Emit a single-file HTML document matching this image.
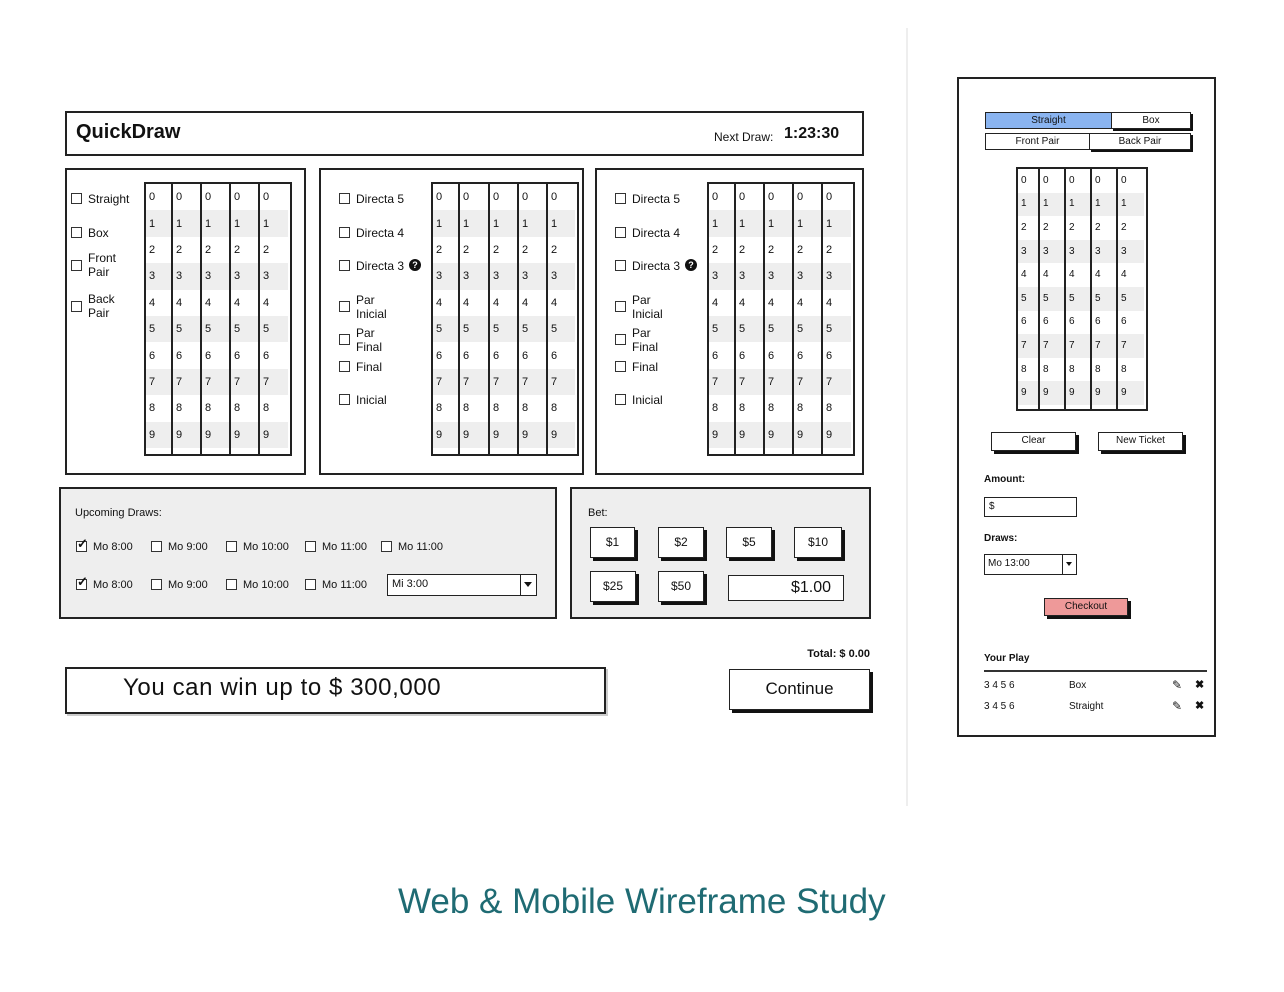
<!DOCTYPE html>
<html><head><meta charset="utf-8">
<style>
*{box-sizing:border-box;margin:0;padding:0}
body{width:1284px;height:992px;background:#fff;position:relative;overflow:hidden;font-family:"Liberation Sans",sans-serif;color:#111}
.a{position:absolute}
.box{position:absolute;border:2px solid #222;background:#fff}
.t{position:absolute;font-size:12px;line-height:14px;white-space:nowrap}
.cb{position:absolute;width:11px;height:11px;border:1.5px solid #333;background:#fff}
.btn{position:absolute;border:1.5px solid #222;background:#fff;box-shadow:3px 3px 0 #111;text-align:center;font-size:12px}
.q{position:absolute;width:12px;height:12px;border-radius:50%;background:#111;color:#fff;font-size:9px;font-weight:bold;text-align:center;line-height:12px}
</style></head><body>
<div class="a" style="left:906px;top:28px;width:2px;height:778px;background:#eee"></div>

<div class="box" style="left:65px;top:111px;width:799px;height:45px"></div>
<div class="t" style="left:76px;top:122px;font-size:20px;line-height:20px;font-weight:bold">QuickDraw</div>
<div class="t" style="left:714px;top:130px;font-size:12px">Next Draw:</div>
<div class="t" style="left:784px;top:125px;font-size:16px;line-height:18px;font-weight:bold">1:23:30</div>

<div class="box" style="left:65px;top:168px;width:241px;height:307px"></div>
<div class="box" style="left:319px;top:168px;width:265px;height:307px"></div>
<div class="box" style="left:595px;top:168px;width:269px;height:307px"></div>

<div class="box" style="left:59px;top:487px;width:498px;height:132px;background:#eee"></div>
<div class="box" style="left:570px;top:487px;width:301px;height:132px;background:#eee"></div>

<div class="box" style="left:65px;top:667px;width:541px;height:47px;box-shadow:2px 2px 0 #ccc"></div>
<div class="t" style="left:123px;top:674px;font-size:24px;line-height:28px;letter-spacing:0.6px">You can win up to $ 300,000</div>
<div class="btn" style="left:729px;top:669px;width:141px;height:41px;font-size:17px;line-height:38px">Continue</div>
<div class="t" style="left:760px;top:647px;width:110px;text-align:right;font-weight:bold;font-size:11px">Total: $ 0.00</div>

<div class="t" style="left:75px;top:506px;font-size:11px">Upcoming Draws:</div>
<div class="a" style="left:387px;top:574px;width:150px;height:22px;border:1.5px solid #222;background:#fff"></div>
<div class="a" style="left:520px;top:574px;width:17px;height:22px;border:1.5px solid #222;background:#fff"></div>
<div class="a" style="left:524px;top:582px;border-left:4px solid transparent;border-right:4px solid transparent;border-top:5px solid #111"></div>
<div class="t" style="left:392px;top:577px;font-size:11px">Mi 3:00</div>

<div class="t" style="left:588px;top:506px;font-size:11px">Bet:</div>

<div class="a" style="left:957px;top:77px;width:259px;height:660px;border:2px solid #222"></div>

<div class="t" style="left:398px;top:881px;font-size:35px;line-height:42px;color:#1f6b73">Web &amp; Mobile Wireframe Study</div>

<div id="g"></div>
<script>
var h='';
function T(x,y,s,st){h+='<div class="t" style="left:'+x+'px;top:'+y+'px;'+(st||'')+'">'+s+'</div>';}
function CB(x,y,c){h+='<div class="cb" style="left:'+x+'px;top:'+y+'px"></div>';if(c)h+='<div class="t" style="left:'+(x+1)+'px;top:'+(y-4)+'px;font-size:13px;font-weight:bold">&#10003;</div>';}
function grid(x0,y0,w,hh,cols,rh,fs){
 h+='<div class="a" style="left:'+x0+'px;top:'+y0+'px;width:'+w+'px;height:'+hh+'px;border:2px solid #222;background:#fff"></div>';
 for(var r=0;r<10;r++){
  if(r%2==1)h+='<div class="a" style="left:'+(x0+2)+'px;top:'+(y0+2+r*rh)+'px;width:'+(w-6)+'px;height:'+rh+'px;background:#eee"></div>';
  for(var c=0;c<5;c++)T(cols[c]+5,y0+2+r*rh+(rh-14)/2,r,'font-size:'+fs+'px');
 }
 for(var c=1;c<5;c++)h+='<div class="a" style="left:'+cols[c]+'px;top:'+y0+'px;width:2px;height:'+hh+'px;background:#222"></div>';
}
grid(144,182,148,274,[144,171,200,229,258],26.4,11);
grid(431,182,148,274,[431,458,488,517,546],26.4,11);
grid(707,182,148,274,[707,734,763,792,821],26.4,11);
grid(1016,167,132,244,[1016,1038,1064,1090,1116],23.6,10);
CB(71,193);T(88,192,'Straight');CB(71,227);T(88,226,'Box');
CB(71,260);T(88,251,'Front');T(88,265,'Pair');CB(71,301);T(88,292,'Back');T(88,306,'Pair');
[339,615].forEach(function(x){
 CB(x,193);T(x+17,192,'Directa 5');CB(x,227);T(x+17,226,'Directa 4');
 CB(x,260);T(x+17,259,'Directa 3');h+='<div class="q" style="left:'+(x+70)+'px;top:259px">?</div>';
 CB(x,301);T(x+17,293,'Par');T(x+17,307,'Inicial');
 CB(x,334);T(x+17,326,'Par');T(x+17,340,'Final');
 CB(x,361);T(x+17,360,'Final');CB(x,394);T(x+17,393,'Inicial');
});
var xs=[76,151,226,305,381],lb=['Mo 8:00','Mo 9:00','Mo 10:00','Mo 11:00','Mo 11:00'];
for(var i=0;i<5;i++){CB(xs[i],541,i==0);T(xs[i]+17,540,lb[i],'font-size:11px');}
for(var i=0;i<4;i++){CB(xs[i],579,i==0);T(xs[i]+17,578,lb[i],'font-size:11px');}
function B(x,y,w,hh,s,st){h+='<div class="btn" style="left:'+x+'px;top:'+y+'px;width:'+w+'px;height:'+hh+'px;line-height:'+(hh-3)+'px;'+(st||'')+'">'+s+'</div>';}
B(590,527,45,31,'$1');B(658,527,46,31,'$2');B(726,527,46,31,'$5');B(794,527,48,31,'$10');
B(590,571,46,31,'$25');B(658,571,46,31,'$50');
h+='<div class="a" style="left:728px;top:575px;width:116px;height:26px;border:1.5px solid #222;background:#fff;text-align:right;padding-right:12px;font-size:16px;line-height:24px">$1.00</div>';
h+='<div class="a" style="left:985px;top:112px;width:127px;height:17px;border:1.5px solid #222;background:#8ab4f0;font-size:10px;text-align:center;line-height:15px">Straight</div>';
h+='<div class="a" style="left:1111px;top:112px;width:80px;height:17px;border:1.5px solid #222;background:#fff;font-size:10px;text-align:center;line-height:15px;box-shadow:2px 2px 0 #111">Box</div>';
h+='<div class="a" style="left:985px;top:133px;width:105px;height:17px;border:1.5px solid #222;background:#fff;font-size:10px;text-align:center;line-height:15px">Front Pair</div>';
h+='<div class="a" style="left:1089px;top:133px;width:102px;height:17px;border:1.5px solid #222;background:#fff;font-size:10px;text-align:center;line-height:15px;box-shadow:2px 2px 0 #111">Back Pair</div>';
B(991,432,85,19,'Clear','font-size:10px');B(1098,432,85,19,'New Ticket','font-size:10px');
T(984,473,'Amount:','font-size:10px;font-weight:bold');
h+='<div class="a" style="left:984px;top:497px;width:93px;height:20px;border:1.5px solid #222;font-size:10px;padding-left:4px;line-height:17px">$</div>';
T(984,532,'Draws:','font-size:10px;font-weight:bold');
h+='<div class="a" style="left:984px;top:554px;width:93px;height:21px;border:1.5px solid #222;font-size:10px;padding-left:3px;line-height:18px">Mo 13:00</div>';
h+='<div class="a" style="left:1062px;top:554px;width:15px;height:21px;border:1.5px solid #222"></div>';
h+='<div class="a" style="left:1066px;top:562px;border-left:3px solid transparent;border-right:3px solid transparent;border-top:4px solid #111"></div>';
B(1044,598,84,18,'Checkout','font-size:10px;background:#e99');
T(984,652,'Your Play','font-size:10px;font-weight:bold');
h+='<div class="a" style="left:984px;top:670px;width:223px;height:1.5px;background:#333"></div>';
T(984,679,'3 4 5 6','font-size:10px');T(1069,679,'Box','font-size:10px');
T(984,700,'3 4 5 6','font-size:10px');T(1069,700,'Straight','font-size:10px');
T(1172,678,'&#9998;','font-size:12px');T(1195,678,'&#10006;','font-size:11px;font-weight:bold');
T(1172,699,'&#9998;','font-size:12px');T(1195,699,'&#10006;','font-size:11px;font-weight:bold');
document.getElementById('g').innerHTML=h;
</script>
</body></html>
